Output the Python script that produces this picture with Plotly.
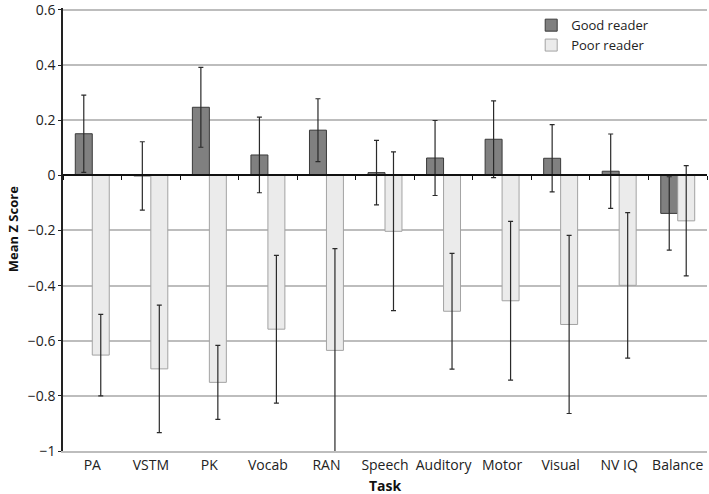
import plotly.graph_objects as go

tasks = ["PA", "VSTM", "PK", "Vocab", "RAN", "Speech", "Auditory", "Motor", "Visual", "NV IQ", "Balance"]
good_mean = [0.151, -0.002, 0.247, 0.074, 0.164, 0.010, 0.063, 0.131, 0.062, 0.015, -0.138]
good_err = [0.140, 0.124, 0.145, 0.137, 0.114, 0.117, 0.136, 0.139, 0.122, 0.135, 0.133]
poor_mean = [-0.652, -0.702, -0.751, -0.558, -0.635, -0.203, -0.493, -0.455, -0.541, -0.399, -0.165]
poor_err = [0.148, 0.231, 0.134, 0.268, 0.369, 0.288, 0.210, 0.288, 0.323, 0.264, 0.200]
y_ticks = [0.6, 0.4, 0.2, 0, -0.2, -0.4, -0.6, -0.8, -1]
y_ticktext = ["0.6", "0.4", "0.2", "0", "\u22120.2", "\u22120.4", "\u22120.6", "\u22120.8", "\u22121"]

FONT = "'Open Sans', sans-serif"

fig = go.Figure()
fig.add_trace(go.Bar(
    x=tasks, y=good_mean, name="Good reader",
    marker=dict(color="#808080", line=dict(color="#3a3a3a", width=1)),
    error_y=dict(type="data", array=good_err, visible=True, color="#2a2a2a", thickness=1.2, width=2.5),
))
fig.add_trace(go.Bar(
    x=tasks, y=poor_mean, name="Poor reader",
    marker=dict(color="#ebebeb", line=dict(color="#a3a3a3", width=1)),
    error_y=dict(type="data", array=poor_err, visible=True, color="#2a2a2a", thickness=1.2, width=2.5),
))
# helper trace for the zero-line axis with category boundary ticks
fig.add_trace(go.Scatter(x=[0], y=[0], xaxis="x2", mode="markers", opacity=0,
                         showlegend=False, hoverinfo="skip"))

y_lo, y_hi = -1, 0.6072
zero_pos = (0 - y_lo) / (y_hi - y_lo)
fig.update_layout(
    width=709, height=494,
    margin=dict(l=63, r=2, t=8, b=43),
    paper_bgcolor="white", plot_bgcolor="white",
    barmode="group", bargap=0.42, bargroupgap=0,
    font=dict(family=FONT, size=14, color="#222"),
    showlegend=True,
    legend=dict(x=0.727, y=0.995, xanchor="left", yanchor="top",
                bgcolor="rgba(255,255,255,0)", font=dict(size=13, color="#222"),
                tracegroupgap=0),
    xaxis=dict(
        type="category", range=[-0.5, 10.5], showgrid=False, automargin=False,
        showline=True, linecolor="#bdbdbd", linewidth=1.5,
        ticks="", tickfont=dict(size=14, color="#222"),
    ),
    xaxis2=dict(
        overlaying="x", anchor="free", position=zero_pos, range=[-0.5, 10.5],
        showgrid=False, zeroline=False, showline=True, linecolor="#111", linewidth=1.5,
        ticks="outside", ticklen=4, tickcolor="#111", tickwidth=1, automargin=False,
        tickmode="array", tickvals=[i - 0.5 for i in range(12)], showticklabels=False,
    ),
    yaxis=dict(
        range=[y_lo, y_hi], tickmode="array", tickvals=y_ticks, ticktext=y_ticktext,
        showgrid=True, gridcolor="#bdbdbd", gridwidth=1.5, automargin=False,
        zeroline=True, zerolinecolor="#111", zerolinewidth=1.5,
        showline=True, linecolor="#222", linewidth=1.5,
        ticks="outside", ticklen=3, tickcolor="#222", ticklabeloverflow="allow",
        tickfont=dict(size=14, color="#222"),
    ),
    annotations=[
        dict(text="<b>Task</b>", xref="paper", yref="paper", x=0.5, y=-0.077,
             xanchor="center", yanchor="middle", showarrow=False,
             font=dict(size=14, color="#111")),
        dict(text="<b>Mean Z Score</b>", xref="paper", yref="paper", x=-0.078, y=0.5,
             xanchor="center", yanchor="middle", textangle=-90, showarrow=False,
             font=dict(size=13, color="#111")),
    ],
)

fig.write_html("out.html", config={"displayModeBar": False},
               post_script="document.body.style.margin='0';")
